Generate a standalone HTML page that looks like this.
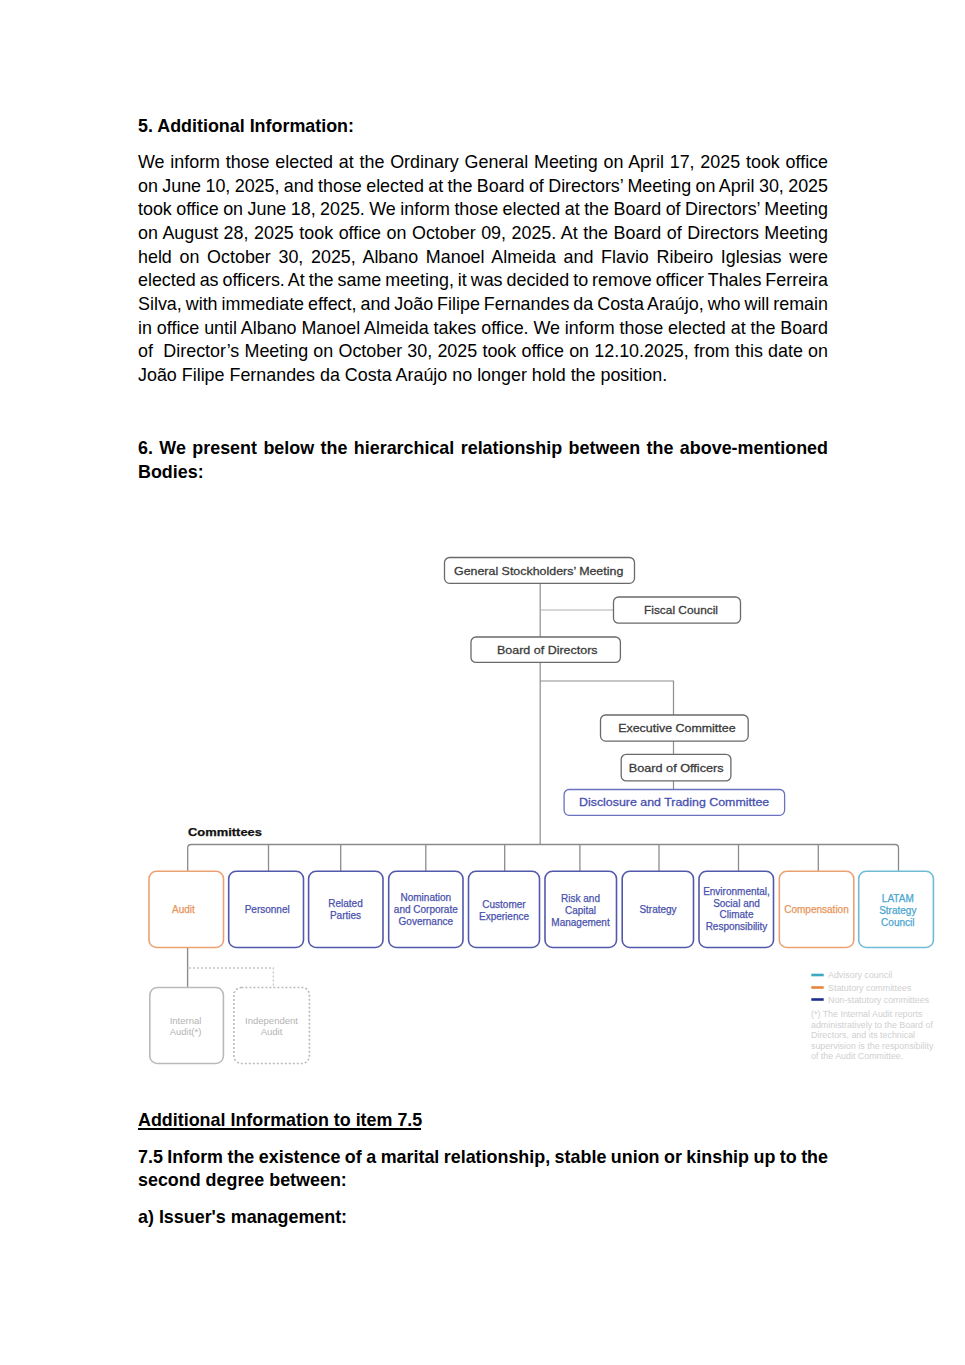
<!DOCTYPE html>
<html><head><meta charset="utf-8">
<style>
html,body{margin:0;padding:0;background:#fff;}
body{width:965px;height:1365px;position:relative;overflow:hidden;font-family:"Liberation Sans",sans-serif;color:#000;}
.l{position:absolute;left:138px;width:689px;font-size:17.9px;line-height:24px;white-space:nowrap;}
.j{text-align:justify;text-align-last:justify;white-space:normal;}
.b{font-weight:bold;}
svg{position:absolute;left:0;top:0;}
</style></head><body>
<div class="l b" style="top:114px">5. Additional Information:</div>

<div class="l" style="top:150px;word-spacing:0.816px">We inform those elected at the Ordinary General Meeting on April 17, 2025 took office</div>
<div class="l" style="top:174px;word-spacing:-0.596px">on June 10, 2025, and those elected at the Board of Directors’ Meeting on April 30, 2025</div>
<div class="l" style="top:197px;word-spacing:-0.521px">took office on June 18, 2025. We inform those elected at the Board of Directors’ Meeting</div>
<div class="l" style="top:221px;word-spacing:0.536px">on August 28, 2025 took office on October 09, 2025. At the Board of Directors Meeting</div>
<div class="l" style="top:245px;word-spacing:2.717px">held on October 30, 2025, Albano Manoel Almeida and Flavio Ribeiro Iglesias were</div>
<div class="l" style="top:268px;word-spacing:-1.003px">elected as officers. At the same meeting, it was decided to remove officer Thales Ferreira</div>
<div class="l" style="top:292px;word-spacing:-0.98px">Silva, with immediate effect, and João Filipe Fernandes da Costa Araújo, who will remain</div>
<div class="l" style="top:316px;word-spacing:-0.086px">in office until Albano Manoel Almeida takes office. We inform those elected at the Board</div>
<div class="l" style="top:339px;word-spacing:0.251px">of&nbsp; Director’s Meeting on October 30, 2025 took office on 12.10.2025, from this date on</div>
<div class="l" style="top:363px">João Filipe Fernandes da Costa Araújo no longer hold the position.</div>

<div class="l b" style="top:436px;word-spacing:1.477px">6. We present below the hierarchical relationship between the above-mentioned</div>
<div class="l b" style="top:460px">Bodies:</div>

<div class="l b" style="top:1108px">Additional Information to item 7.5</div>
<div style="position:absolute;left:138.3px;top:1127.8px;width:283px;height:1.8px;background:#000"></div>
<div class="l b" style="top:1145px;word-spacing:-0.491px">7.5 Inform the existence of a marital relationship, stable union or kinship up to the</div>
<div class="l b" style="top:1168px">second degree between:</div>
<div class="l b" style="top:1205px">a) Issuer's management:</div>

<svg width="965" height="1365" viewBox="0 0 965 1365" style="font-family:'Liberation Sans',sans-serif">
<g fill="none" stroke-width="1.4">
<path d="M540.2 583V845" stroke="#8e8e8e" stroke-width="1.2"/>
<path d="M540 610H613.5" stroke="#b0b0b0" stroke-width="1.2"/>
<path d="M540 681H673.5V715" stroke="#8e8e8e" stroke-width="1.2"/>
<path d="M673.5 741V754M673.5 781V789.5" stroke="#8e8e8e" stroke-width="1.2"/>
<path d="M187.7 871V848Q187.7 844.5 191.2 844.5H895Q898.5 844.5 898.5 848V871" stroke="#8a8a8a" stroke-width="1.3"/>
<path stroke-width="1.3" d="M268.5 844.5V871M340.7 844.5V871M425.8 844.5V871M504.7 844.5V871M579.9 844.5V871M659 844.5V871M738.5 844.5V871M818.3 844.5V871" stroke="#8c8c8c"/>
<path d="M187.6 947.5V987.5" stroke="#8c8c8c"/>
<path d="M189 968H273.4V987" stroke="#c8c8c8" stroke-dasharray="2 2"/>
</g>
<g fill="#fff" stroke-width="1.3">
<rect x="444.5" y="557.5" width="190" height="25.8" rx="5" stroke="#6a6a6a"/>
<rect x="613.5" y="597" width="127" height="26.2" rx="5" stroke="#6a6a6a"/>
<rect x="471" y="637" width="149.4" height="25.4" rx="5" stroke="#6a6a6a"/>
<rect x="600.5" y="715" width="147.7" height="26.1" rx="5" stroke="#6a6a6a"/>
<rect x="621.2" y="754.3" width="109.7" height="26.6" rx="5" stroke="#6a6a6a"/>
<rect x="564.1" y="789.5" width="220.5" height="25.8" rx="5" stroke="#6a72c0"/>
</g>
<g fill="#fff" stroke-width="1.6">
<rect x="149" y="871.3" width="74.5" height="76.2" rx="7.5" stroke="#eba272"/>
<rect x="228.7" y="871.3" width="74.8" height="76.2" rx="7.5" stroke="#5259aa"/>
<rect x="308.6" y="871.3" width="74.4" height="76.2" rx="7.5" stroke="#5259aa"/>
<rect x="388.7" y="871.3" width="74.3" height="76.2" rx="7.5" stroke="#5259aa"/>
<rect x="468.5" y="871.3" width="71" height="76.2" rx="7.5" stroke="#5259aa"/>
<rect x="545" y="871.3" width="71.5" height="76.2" rx="7.5" stroke="#5259aa"/>
<rect x="622.2" y="871.3" width="71.3" height="76.2" rx="7.5" stroke="#5259aa"/>
<rect x="699" y="871.3" width="74.5" height="76.2" rx="7.5" stroke="#5259aa"/>
<rect x="779.3" y="871.3" width="74.5" height="76.2" rx="7.5" stroke="#eba272"/>
<rect x="858.7" y="871.3" width="74.7" height="76.2" rx="7.5" stroke="#70bcd6"/>
<rect x="149.8" y="987.5" width="73.6" height="76" rx="7.5" stroke="#bababa"/>
<rect x="233.9" y="987.5" width="75.5" height="76" rx="7.5" stroke="#bababa" stroke-dasharray="2 2"/>
</g>
<g stroke-width="2.6">
<path d="M811.3 975H823.7" stroke="#3ca9c2"/>
<path d="M811.3 987.5H823.7" stroke="#e8843c"/>
<path d="M811.3 999.5H823.7" stroke="#1c2f8c"/>
</g>
<g fill="#3a3a3a" stroke="#3a3a3a" stroke-width="0.3" font-size="11.8">
<text x="454" y="575" textLength="169.3" lengthAdjust="spacingAndGlyphs">General Stockholders’ Meeting</text>
<text x="644" y="613.6" textLength="74" lengthAdjust="spacingAndGlyphs">Fiscal Council</text>
<text x="497" y="654.2" textLength="100.6" lengthAdjust="spacingAndGlyphs">Board of Directors</text>
<text x="618.2" y="731.6" textLength="117.4" lengthAdjust="spacingAndGlyphs">Executive Committee</text>
<text x="628.8" y="771.9" textLength="94.8" lengthAdjust="spacingAndGlyphs">Board of Officers</text>
<text x="579" y="806.3" textLength="190.2" lengthAdjust="spacingAndGlyphs" fill="#4850b0" stroke="#4850b0">Disclosure and Trading Committee</text>
</g>
<text x="188" y="836.2" font-size="11" font-weight="bold" fill="#111" stroke="#111" stroke-width="0.25" textLength="74" lengthAdjust="spacingAndGlyphs">Committees</text>
<g font-size="10" text-anchor="middle" fill="#4a52ad" stroke="#4a52ad" stroke-width="0.25">
<text x="183.4" y="913.2" fill="#e8955a" stroke="#e8955a">Audit</text>
<text x="267.2" y="913.2">Personnel</text>
<text x="345.5" y="907.4">Related</text>
<text x="345.5" y="919.3">Parties</text>
<text x="425.8" y="901.4">Nomination</text>
<text x="425.8" y="913.2">and Corporate</text>
<text x="425.8" y="925.4">Governance</text>
<text x="504" y="907.5">Customer</text>
<text x="504" y="919.7">Experience</text>
<text x="580.5" y="902.2">Risk and</text>
<text x="580.5" y="914.3">Capital</text>
<text x="580.5" y="926.4">Management</text>
<text x="658" y="913.1">Strategy</text>
<text x="736.5" y="895">Environmental,</text>
<text x="736.5" y="906.5">Social and</text>
<text x="736.5" y="918">Climate</text>
<text x="736.5" y="929.5">Responsibility</text>
<text x="816.5" y="913.1" fill="#e8955a" stroke="#e8955a">Compensation</text>
<g fill="#4aa6cf" stroke="#4aa6cf">
<text x="897.8" y="901.5">LATAM</text>
<text x="897.8" y="913.6">Strategy</text>
<text x="897.8" y="925.5">Council</text>
</g>
</g>
<g font-size="9.5" text-anchor="middle" fill="#b4b4b4">
<text x="185.5" y="1023.5">Internal</text>
<text x="185.5" y="1034.7">Audit(*)</text>
<text x="271.5" y="1023.5">Independent</text>
<text x="271.5" y="1034.7">Audit</text>
</g>
<g font-size="8.9" fill="#d0d0d0">
<text x="828" y="978">Advisory council</text>
<text x="828" y="990.5">Statutory committees</text>
<text x="828" y="1002.5">Non-statutory committees</text>
<text x="811" y="1017">(*) The Internal Audit reports</text>
<text x="811" y="1027.6">administratively to the Board of</text>
<text x="811" y="1038.1">Directors, and its technical</text>
<text x="811" y="1048.6">supervision is the responsibility</text>
<text x="811" y="1059.2">of the Audit Committee.</text>
</g>
</svg>
</body></html>
